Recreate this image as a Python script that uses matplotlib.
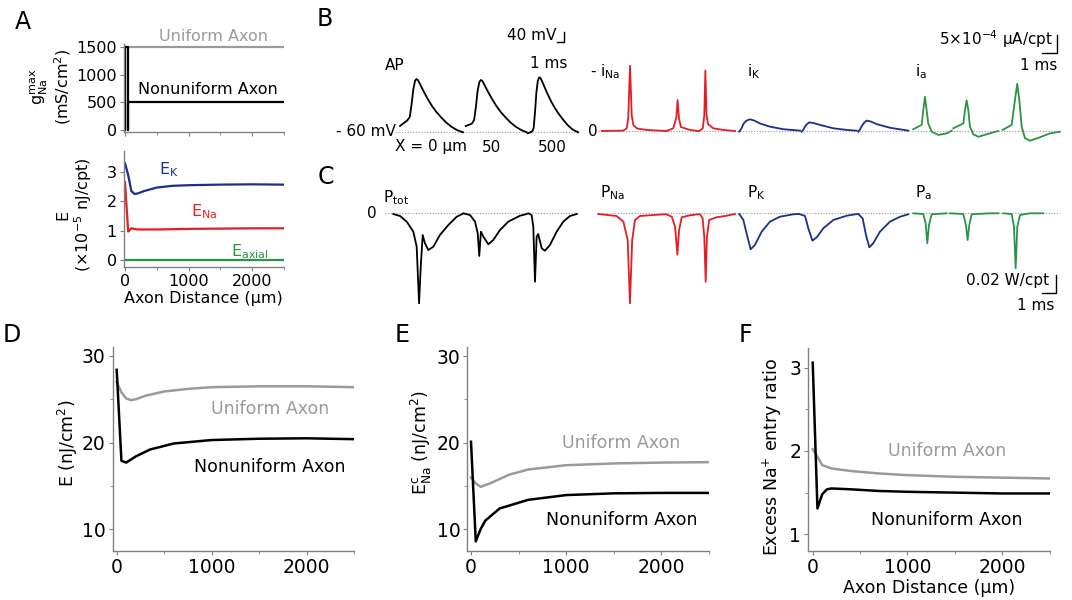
import numpy as np
import matplotlib
matplotlib.use('Agg')
import matplotlib.pyplot as plt

plt.rcParams['font.family'] = ['DejaVu Sans']

W, H = 1072, 600

GRAY = '#9a9a9a'
RED = '#e31e24'
BLUE = '#1c2f8c'
GREEN = '#2a9445'
SPINE = '#808080'

# ---------------- panel A: gNa max along the axon ----------------
dist_g_uni = [0, 0, 2500]
gna_uni = [0, 1500, 1500]
dist_g_non = [0, 0, 40, 40, 40, 2500]
gna_non = [0, 1500, 1500, 0, 500, 500]

# panel A bottom: energy per compartment (x1e-5 nJ/cpt)
ek_x = [0, 50, 100, 150, 200, 300, 500, 750, 1000, 1500, 2000, 2500]
ek = [3.30, 2.90, 2.35, 2.25, 2.27, 2.35, 2.47, 2.53, 2.55, 2.57, 2.58, 2.57]
ena_x = [0, 25, 50, 75, 100, 150, 200, 500, 1000, 1500, 2000, 2500]
ena = [2.65, 1.80, 0.97, 1.03, 1.08, 1.06, 1.04, 1.04, 1.06, 1.07, 1.08, 1.08]
eaxial_x = [0, 2500]
eaxial = [0.0, 0.0]

# ---------------- panel B: AP (ms, mV) at X = 0, 50, 500 um ----------------
ap_t = [[0, 0.5, 1.0, 1.4, 1.65, 1.9, 2.15, 2.35, 2.55, 2.8, 3.1, 3.5, 4.0, 4.6, 5.2, 5.9, 6.6, 7.4, 8.2, 9.0],
        [0, 0.5, 0.9, 1.2, 1.45, 1.7, 1.95, 2.15, 2.35, 2.6, 2.9, 3.3, 3.8, 4.4, 5.0, 5.7, 6.4, 7.2, 8.0, 8.7],
        [0, 0.33, 0.65, 0.85, 1.05, 1.25, 1.45, 1.65, 1.85, 2.1, 2.4, 2.8, 3.3, 3.9, 4.5, 5.1, 5.7, 6.4, 7.2]]
ap_v = [[-36, -25, -15, 0, 50, 110, 145, 152, 148, 135, 118, 96, 70, 43, 20, -2, -22, -40, -53, -61],
        [-36, -31, -26, -12, 40, 105, 140, 148, 145, 133, 116, 95, 70, 43, 20, -2, -22, -40, -53, -61],
        [-65, -62, -57, -45, 20, 100, 145, 159, 155, 140, 120, 95, 65, 35, 10, -12, -32, -50, -61]]

# currents (x1e-4 uA/cpt)
ina_t = [[0, 1.44, 1.67, 1.77, 1.89, 2.0, 2.11, 2.35, 3.0, 4.29],
         [0, 0.44, 0.64, 0.73, 0.82, 0.95, 1.55, 2.11],
         [0, 0.23, 0.33, 0.4, 0.48, 0.58, 0.93, 1.6, 2.38]]
ina = [[0, 0.1, 0.75, 3.6, 18.1, 4.4, 1.7, 0.7, 0.3, 0.0],
       [0, 0.75, 3.6, 8.6, 3.6, 1.1, 0.3, 0.0],
       [0, 0.75, 4.4, 16.8, 4.4, 1.9, 0.75, 0.3, 0.0]]
ik_t = [[0, 0.15, 0.27, 0.45, 0.71, 1.0, 1.38, 2.05, 2.93, 4.05],
        [0, 0.12, 0.22, 0.35, 0.51, 0.8, 1.22, 2.11, 3.0, 3.67],
        [0, 0.12, 0.23, 0.38, 0.56, 0.85, 1.23, 2.11, 3.33]]
ik = [[-0.2, 0.7, 1.9, 2.8, 3.25, 2.9, 2.1, 1.2, 0.5, 0.1],
      [-0.2, 0.4, 1.2, 1.9, 2.4, 2.2, 1.7, 0.75, 0.3, 0.1],
      [-0.2, 0.5, 1.4, 2.3, 2.9, 2.6, 1.9, 0.9, 0.1]]
ia_t = [[0, 0.56, 0.67, 0.78, 0.89, 1.0, 1.23, 1.67, 2.23, 2.56],
        [0, 0.67, 0.78, 0.89, 1.0, 1.11, 1.33, 1.67, 2.44, 3.0],
        [0, 0.6, 0.82, 0.97, 1.11, 1.27, 1.49, 1.82, 2.49, 3.15, 3.82]]
ia = [[0.5, 1.7, 5.8, 9.5, 5.8, 2.1, -0.2, -1.1, -0.65, 0.1],
      [0.75, 2.1, 5.8, 8.5, 5.8, 1.2, -0.9, -1.6, -0.65, 0.0],
      [0.3, 1.7, 8.6, 13.1, 8.6, 1.2, -2.0, -2.7, -1.75, -0.65, -0.2]]

# ---------------- panel C: power (W/cpt) ----------------
ptot_t = [[0, 0.48, 0.96, 1.43, 1.67, 1.84, 1.96, 2.1, 2.26, 2.5, 2.86, 3.33, 3.93, 4.53, 4.93],
          [0, 0.48, 0.84, 1.03, 1.14, 1.26, 1.43, 1.79, 2.14, 2.62, 3.21, 4.05, 4.53],
          [0, 0.24, 0.36, 0.48, 0.6, 0.71, 0.96, 1.19, 1.55, 2.03, 2.5, 2.98, 3.46]]
ptot = [[-0.0008, -0.003, -0.0093, -0.0204, -0.0371, -0.1, -0.0593, -0.0241, -0.0333, -0.0408,
         -0.0371, -0.0241, -0.013, -0.0038, -0.0008],
        [0, -0.0019, -0.0093, -0.0222, -0.0474, -0.0204, -0.026, -0.0344, -0.0297, -0.0186,
         -0.0093, -0.0027, -0.0008],
        [0, -0.0019, -0.0149, -0.076, -0.026, -0.023, -0.0389, -0.0416, -0.0352, -0.0204,
         -0.0093, -0.003, -0.0008]]
pna_t = [[0, 1.31, 1.79, 2.1, 2.26, 2.42, 2.62, 2.98, 3.93, 4.76],
         [0, 0.41, 0.64, 0.81, 0.93, 1.12, 1.71, 2.31],
         [0, 0.19, 0.31, 0.41, 0.5, 0.66, 1.19, 1.91, 2.5]]
pna = [[-0.0008, -0.003, -0.0093, -0.0297, -0.1, -0.0297, -0.0074, -0.003, -0.0019, -0.0011],
       [-0.0011, -0.0038, -0.0149, -0.046, -0.0186, -0.0044, -0.0022, -0.0011],
       [-0.0011, -0.0056, -0.026, -0.076, -0.026, -0.0074, -0.0044, -0.0027, -0.0008]]
pk_t = [[0, 0.29, 0.52, 0.81, 1.12, 1.6, 2.19, 2.9, 3.86, 4.21],
        [0, 0.41, 0.64, 0.93, 1.24, 1.71, 2.43, 3.38, 4.1],
        [0, 0.31, 0.55, 0.79, 1.07, 1.55, 2.26, 2.98, 3.57]]
pk = [[-0.0008, -0.0074, -0.0222, -0.04, -0.0352, -0.0204, -0.0093, -0.0038, -0.0011, -0.0008],
      [-0.0008, -0.003, -0.0167, -0.0304, -0.0267, -0.0167, -0.0074, -0.0027, -0.0008],
      [-0.0008, -0.0056, -0.0241, -0.0378, -0.0333, -0.0204, -0.0093, -0.0038, -0.0011]]
pa_t = [[0, 0.71, 0.88, 1.0, 1.12, 1.31, 2.38],
        [0, 0.95, 1.14, 1.26, 1.38, 1.55, 2.86, 3.45],
        [0, 0.6, 0.76, 0.88, 1.0, 1.19, 1.9, 2.86]]
pa = [[0, -0.0008, -0.0111, -0.0333, -0.013, -0.0011, 0],
      [0, -0.0008, -0.013, -0.0297, -0.013, -0.0011, 0, 0],
      [0, -0.0008, -0.0149, -0.0611, -0.0149, -0.0019, 0, 0]]

# ---------------- panels D-F: vs axon distance ----------------
d_uni_x = [0, 50, 100, 150, 200, 300, 500, 750, 1000, 1500, 2000, 2500]
d_uni = [27.0, 25.8, 25.1, 24.9, 25.0, 25.4, 25.9, 26.2, 26.4, 26.5, 26.5, 26.4]
d_non_x = [0, 50, 100, 200, 350, 600, 1000, 1500, 2000, 2500]
d_non = [28.4, 17.9, 17.7, 18.4, 19.2, 19.9, 20.3, 20.45, 20.5, 20.4]

e_uni_x = [0, 50, 100, 200, 400, 600, 1000, 1500, 2000, 2500]
e_uni = [16.0, 15.3, 14.9, 15.3, 16.3, 16.9, 17.4, 17.6, 17.7, 17.75]
e_non_x = [0, 50, 100, 150, 300, 600, 1000, 1500, 2000, 2500]
e_non = [20.1, 8.6, 10.0, 11.0, 12.4, 13.4, 13.95, 14.15, 14.2, 14.2]

f_uni_x = [0, 50, 100, 200, 400, 700, 1000, 1500, 2000, 2500]
f_uni = [2.02, 1.93, 1.83, 1.79, 1.76, 1.73, 1.71, 1.69, 1.68, 1.67]
f_non_x = [0, 50, 100, 150, 200, 400, 700, 1000, 1500, 2000, 2500]
f_non = [3.06, 1.31, 1.48, 1.54, 1.55, 1.54, 1.52, 1.51, 1.50, 1.49, 1.49]


fig = plt.figure(figsize=(W / 100, H / 100), dpi=100)


def box(x0, y0, x1, y1):
    # pixel rectangle (top-left origin) -> figure fraction
    return [x0 / W, 1 - y1 / H, (x1 - x0) / W, (y1 - y0) / H]


def style(ax, fs):
    for s in ['top', 'right']:
        ax.spines[s].set_visible(False)
    for s in ['left', 'bottom']:
        ax.spines[s].set_color(SPINE)
        ax.spines[s].set_linewidth(1)
    ax.tick_params(which='both', colors=SPINE, labelcolor='black', labelsize=fs, direction='out')
    ax.tick_params(which='major', length=3, pad=2)
    ax.tick_params(which='minor', length=2)


def trace_axes(x0, y0, x1, y1, px_x, px_y, ox, oy):
    # axes where data (0, 0) sits on pixel (ox, oy) with fixed px per unit
    ax = fig.add_axes(box(x0, y0, x1, y1))
    ax.set_xlim(-(ox - x0) / px_x, (x1 - ox) / px_x)
    ax.set_ylim(-(y1 - oy) / px_y, (oy - y0) / px_y)
    ax.axis('off')
    return ax


def ylab(ax, text, x, y, fs):
    ax.set_ylabel(text, fontsize=fs, linespacing=1.1)
    ax.yaxis.label.set_va('center')
    ax.yaxis.set_label_coords(x, y)


# ---- A top
fa = 11.5
ax = fig.add_axes(box(123.7, 43.7, 283.8, 132.2))
style(ax, fa)
ax.plot(dist_g_uni, gna_uni, color=GRAY, lw=1.6)
ax.plot(dist_g_non, gna_non, color='black', lw=1.6)
ax.set_xlim(-20.5, 2500)
ax.set_ylim(-40, 1560)
ax.set_yticks([0, 500, 1000, 1500])
ax.set_xticks([0, 1000, 2000])
ax.set_xticks([500, 1500, 2500], minor=True)
ax.tick_params(axis='x', labelbottom=False)
ax.text(1386, 1682, 'Uniform Axon', color=GRAY, fontsize=fa, ha='center', va='center', clip_on=False)
ax.text(1307, 723, 'Nonuniform Axon', color='black', fontsize=fa, ha='center', va='center')
ylab(ax, '$\\mathregular{g_{Na}^{max}}$\n(mS/cm$^\\mathregular{2}$)', -0.454, 0.51, fa)

# ---- A bottom
ax = fig.add_axes(box(123.7, 151.5, 283.8, 267.3))
style(ax, fa)
ax.plot(ek_x, ek, color=BLUE, lw=1.6)
ax.plot(ena_x, ena, color=RED, lw=1.6)
ax.plot(eaxial_x, eaxial, color=GREEN, lw=1.6)
ax.set_xlim(-20.5, 2500)
ax.set_ylim(-0.25, 3.7)
ax.set_yticks([0, 1, 2, 3])
ax.set_xticks([0, 1000, 2000])
ax.set_xticks([500, 1500, 2500], minor=True)
ax.set_xlabel('Axon Distance (µm)', fontsize=fa, labelpad=1)
ax.text(693, 3.07, 'E$_\\mathregular{K}$', color=BLUE, fontsize=fa, ha='center', va='center')
ax.text(1245, 1.64, 'E$_\\mathregular{Na}$', color=RED, fontsize=fa, ha='center', va='center')
ax.text(1970, 0.27, 'E$_\\mathregular{axial}$', color=GREEN, fontsize=fa, ha='center', va='center')
ylab(ax, 'E\n(×10$^\\mathregular{-5}$ nJ/cpt)', -0.304, 0.45, fa)

# ---- B: action potentials
fb = 11
ax = trace_axes(380, 20, 580, 150, 7.0, 0.25, 400, 132 - 60 * 0.25)
ap_off = [0, 9.39, 18.24]
ax.plot([-0.57, 25.7], [-60, -60], color='#9a9a9a', lw=0.8, ls=(0, (1, 1.5)))
for t, v, o in zip(ap_t, ap_v, ap_off):
    ax.plot(np.array(t) + o, v, color='black', lw=1.3)
ax.text(-0.57, -60, '- 60 mV', fontsize=fb, ha='right', va='center')
ax.text(-0.7, 204, 'AP', fontsize=fb, ha='center', va='center')
ax.text(4.43, -120, 'X = 0 µm', fontsize=fb, ha='center', va='center')
ax.text(13.14, -120, '50', fontsize=fb, ha='center', va='center')
ax.text(21.7, -120, '500', fontsize=fb, ha='center', va='center')
ax.plot([22.43, 23.43, 23.43], [300, 300, 340], color='black', lw=1)
ax.text(22.3, 326, '40 mV', fontsize=fb, ha='right', va='center')
ax.text(23.86, 212, '1 ms', fontsize=fb, ha='right', va='center')

# ---- B: currents
ax = trace_axes(580, 20, 1072, 150, 15.0, 3.6, 601.7, 131)
ax.plot([-0.25, 30.55], [0, 0], color='#9a9a9a', lw=0.8, ls=(0, (1, 1.5)))
for t, v, o in zip(ina_t, ina, [0, 4.33, 6.51]):
    ax.plot(np.array(t) + o, v, color=RED, lw=1.3)
for t, v, o in zip(ik_t, ik, [9.17, 13.33, 17.11]):
    ax.plot(np.array(t) + o, v, color=BLUE, lw=1.3)
for t, v, o in zip(ia_t, ia, [20.77, 23.44, 26.73]):
    ax.plot(np.array(t) + o, v, color=GREEN, lw=1.3)
ax.text(-0.58, 0, '0', fontsize=fb, ha='center', va='center')
ax.text(-0.78, 16.4, '- i$_\\mathregular{Na}$', fontsize=fb, ha='left', va='center')
ax.text(9.69, 16.4, 'i$_\\mathregular{K}$', fontsize=fb, ha='left', va='center')
ax.text(20.9, 16.4, 'i$_\\mathregular{a}$', fontsize=fb, ha='left', va='center')
ax.plot([29.35, 30.35, 30.35], [21.67, 21.67, 26.67], color='black', lw=1)
ax.text(30.09, 25.5, '5×10$^\\mathregular{-4}$ µA/cpt', fontsize=fb, ha='right', va='center')
ax.text(30.4, 18.3, '1 ms', fontsize=fb, ha='right', va='center')

# ---- C: total power
ax = trace_axes(380, 160, 580, 320, 14.0, 900.0, 393.3, 213.3)
ax.plot([-0.6, 13.3], [0, 0], color='#9a9a9a', lw=0.8, ls=(0, (1, 1.5)))
for t, v, o in zip(ptot_t, ptot, [0, 5.0, 9.64]):
    ax.plot(np.array(t) + o, v, color='black', lw=1.3)
ax.text(-1.52, 0, '0', fontsize=fb, ha='center', va='center')
ax.text(-0.74, 0.017, 'P$_\\mathregular{tot}$', fontsize=fb, ha='left', va='center')

# ---- C: channel powers
ax = trace_axes(580, 160, 1072, 320, 14.0, 900.0, 598.3, 213.3)
ax.plot([0, 33.0], [0, 0], color='#9a9a9a', lw=0.8, ls=(0, (1, 1.5)))
for t, v, o in zip(pna_t, pna, [0, 4.84, 7.26]):
    ax.plot(np.array(t) + o, v, color=RED, lw=1.3)
for t, v, o in zip(pk_t, pk, [10.07, 14.36, 18.57]):
    ax.plot(np.array(t) + o, v, color=BLUE, lw=1.3)
for t, v, o in zip(pa_t, pa, [22.5, 25.12, 28.93]):
    ax.plot(np.array(t) + o, v, color=GREEN, lw=1.3)
ax.text(0.12, 0.0226, 'P$_\\mathregular{Na}$', fontsize=fb, ha='left', va='center')
ax.text(10.6, 0.0226, 'P$_\\mathregular{K}$', fontsize=fb, ha='left', va='center')
ax.text(22.6, 0.0226, 'P$_\\mathregular{a}$', fontsize=fb, ha='left', va='center')
ax.plot([31.69, 32.69, 32.69], [-0.0886, -0.0886, -0.0686], color='black', lw=1)
ax.text(32.2, -0.0752, '0.02 W/cpt', fontsize=fb, ha='right', va='center')
ax.text(32.6, -0.102, '1 ms', fontsize=fb, ha='right', va='center')

# ---- D, E, F
ft, fl = 13.5, 12.5
panels = [
    (box(112.7, 346.7, 354, 550.7), (-42, 2498), (7.53, 31.07), d_uni_x, d_uni, d_non_x, d_non,
     'E (nJ/cm$^\\mathregular{2}$)', (-0.185, 0.528), (1614, 23.85), (1614, 17.2), [10, 20, 30], [15, 25]),
    (box(467.3, 347, 709, 550.7), (-39, 2494), (7.53, 31.04), e_uni_x, e_uni, e_non_x, e_non,
     'E$^\\mathregular{c}_\\mathregular{Na}$ (nJ/cm$^\\mathregular{2}$)', (-0.19, 0.53), (1581, 20.0), (1581, 11.1),
     [10, 20, 30], [15, 25]),
    (box(808.3, 348, 1049.5, 550.7), (-46.5, 2500), (0.803, 3.236), f_uni_x, f_uni, f_non_x, f_non,
     'Excess Na$^\\mathregular{+}$ entry ratio', (-0.15, 0.462), (1415, 2.0), (1415, 1.17), [1, 2, 3], [1.5, 2.5]),
]
for rect, xl, yl, ux, uy, nx, ny, lab, lc, upos, npos, yt, ymt in panels:
    ax = fig.add_axes(rect)
    style(ax, ft)
    ax.plot(ux, uy, color=GRAY, lw=1.8)
    ax.plot(nx, ny, color='black', lw=1.8)
    ax.set_xlim(*xl)
    ax.set_ylim(*yl)
    ax.set_yticks(yt)
    ax.set_yticks(ymt, minor=True)
    ax.set_xticks([0, 1000, 2000])
    ax.set_xticks([500, 1500, 2500], minor=True)
    ax.text(*upos, 'Uniform Axon', color=GRAY, fontsize=fl, ha='center', va='center')
    ax.text(*npos, 'Nonuniform Axon', color='black', fontsize=fl, ha='center', va='center')
    ylab(ax, lab, lc[0], lc[1], fl)
ax.set_xlabel('Axon Distance (µm)', fontsize=fl, labelpad=2)

# panel letters
for letter, x, y in [('A', 23, 22), ('B', 325, 19), ('C', 326, 177),
                     ('D', 12, 335), ('E', 402, 335), ('F', 745, 335)]:
    fig.text(x / W, 1 - y / H, letter, fontsize=17, ha='center', va='center')

fig.savefig('out.png', dpi=100)
